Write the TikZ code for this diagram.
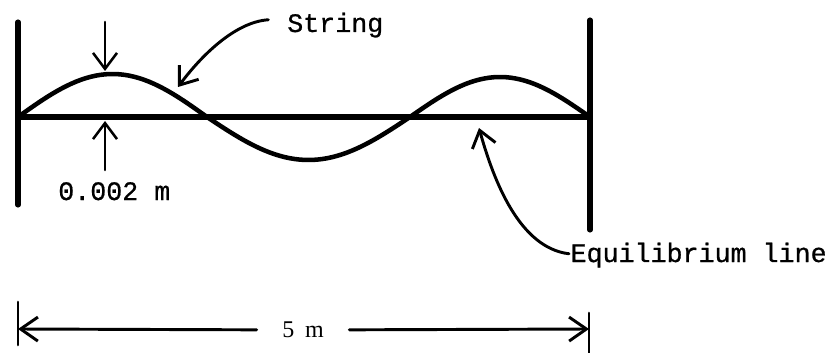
\documentclass[tikz,border=0pt]{standalone}
\usepackage{fontspec}
\setmainfont{Liberation Serif}
\newfontfamily\typewriter[FakeBold=0.7]{Liberation Mono}
\usepackage{tikz}
\usetikzlibrary{arrows.meta,calc}

\begin{document}
\begin{tikzpicture}[x=0.75pt,y=-0.75pt,line cap=round,line join=round,
    wall/.style={line width=3.8pt},
    wire/.style={line width=3.4pt},
    pointer/.style={line width=1.9pt,-{Straight Barb[length=12pt,width=18pt]}},
    dimline/.style={line width=2.2pt,-{Straight Barb[length=13pt,width=18pt]}},
    tag/.style={font=\fontsize{20}{24}\selectfont\typewriter,inner sep=0pt}]
    \useasboundingbox (0,0) rectangle (836,353);
    \coordinate (lwtop) at (18,22);
    \coordinate (lwbot) at (18,205);
    \coordinate (rwtop) at (590,20);
    \coordinate (rwbot) at (590,230);
    \coordinate (lfix) at (18,117);
    \coordinate (rfix) at (590,117);
    \draw[wall] (lwtop) -- (lwbot);
    \draw[wall] (rwtop) -- (rwbot);
    \draw[line width=4.4pt] (lfix) -- (rfix);
    \draw[wire] plot[domain=18:207,samples=40] (\x,{117-43*sin((\x-18)/189*180)})
      -- plot[domain=207:410,samples=40] (\x,{117+43*sin((\x-207)/203*180)})
      -- plot[domain=410:590,samples=40] (\x,{117-40*sin((\x-410)/180*180)});
    \coordinate (crest) at (105,71);
    \coordinate (rest) at (105,121);
    \draw[pointer] ($(crest)+(0,-49)$) -- (crest);
    \draw[pointer] ($(rest)+(0,49)$) -- (rest);
    \node[tag,anchor=base west] (amp) at (58,200) {0.002 m};
    \node[tag,anchor=base west] (str) at (287,32) {String};
    \coordinate (strtip) at (178,87);
    \draw[pointer,line width=2.2pt] ([xshift=-14pt,yshift=4pt]str.west) .. controls (235,22) and (201,56) .. (strtip);
    \node[tag,anchor=base west,inner sep=1pt] (eq) at (569,262) {Equilibrium line};
    \coordinate (eqtip) at (479,128);
    \draw[pointer,line width=2.2pt] ([yshift=1pt]eq.west) .. controls (520,248) and (494,182) .. (eqtip);
    \node[font=\fontsize{18}{22}\selectfont,inner xsep=19pt,inner ysep=0pt] (len) at (303,330) {5\hspace{0.45em}m};
    \coordinate (lend) at (18,329);
    \coordinate (rend) at (589,329);
    \draw[dimline] (len) -- (lend);
    \draw[dimline] (len) -- (rend);
    \draw[line width=2pt] (18,302) -- (18,345);
    \draw[line width=2pt] (589,313) -- (589,353);
  \end{tikzpicture}
\end{document}
